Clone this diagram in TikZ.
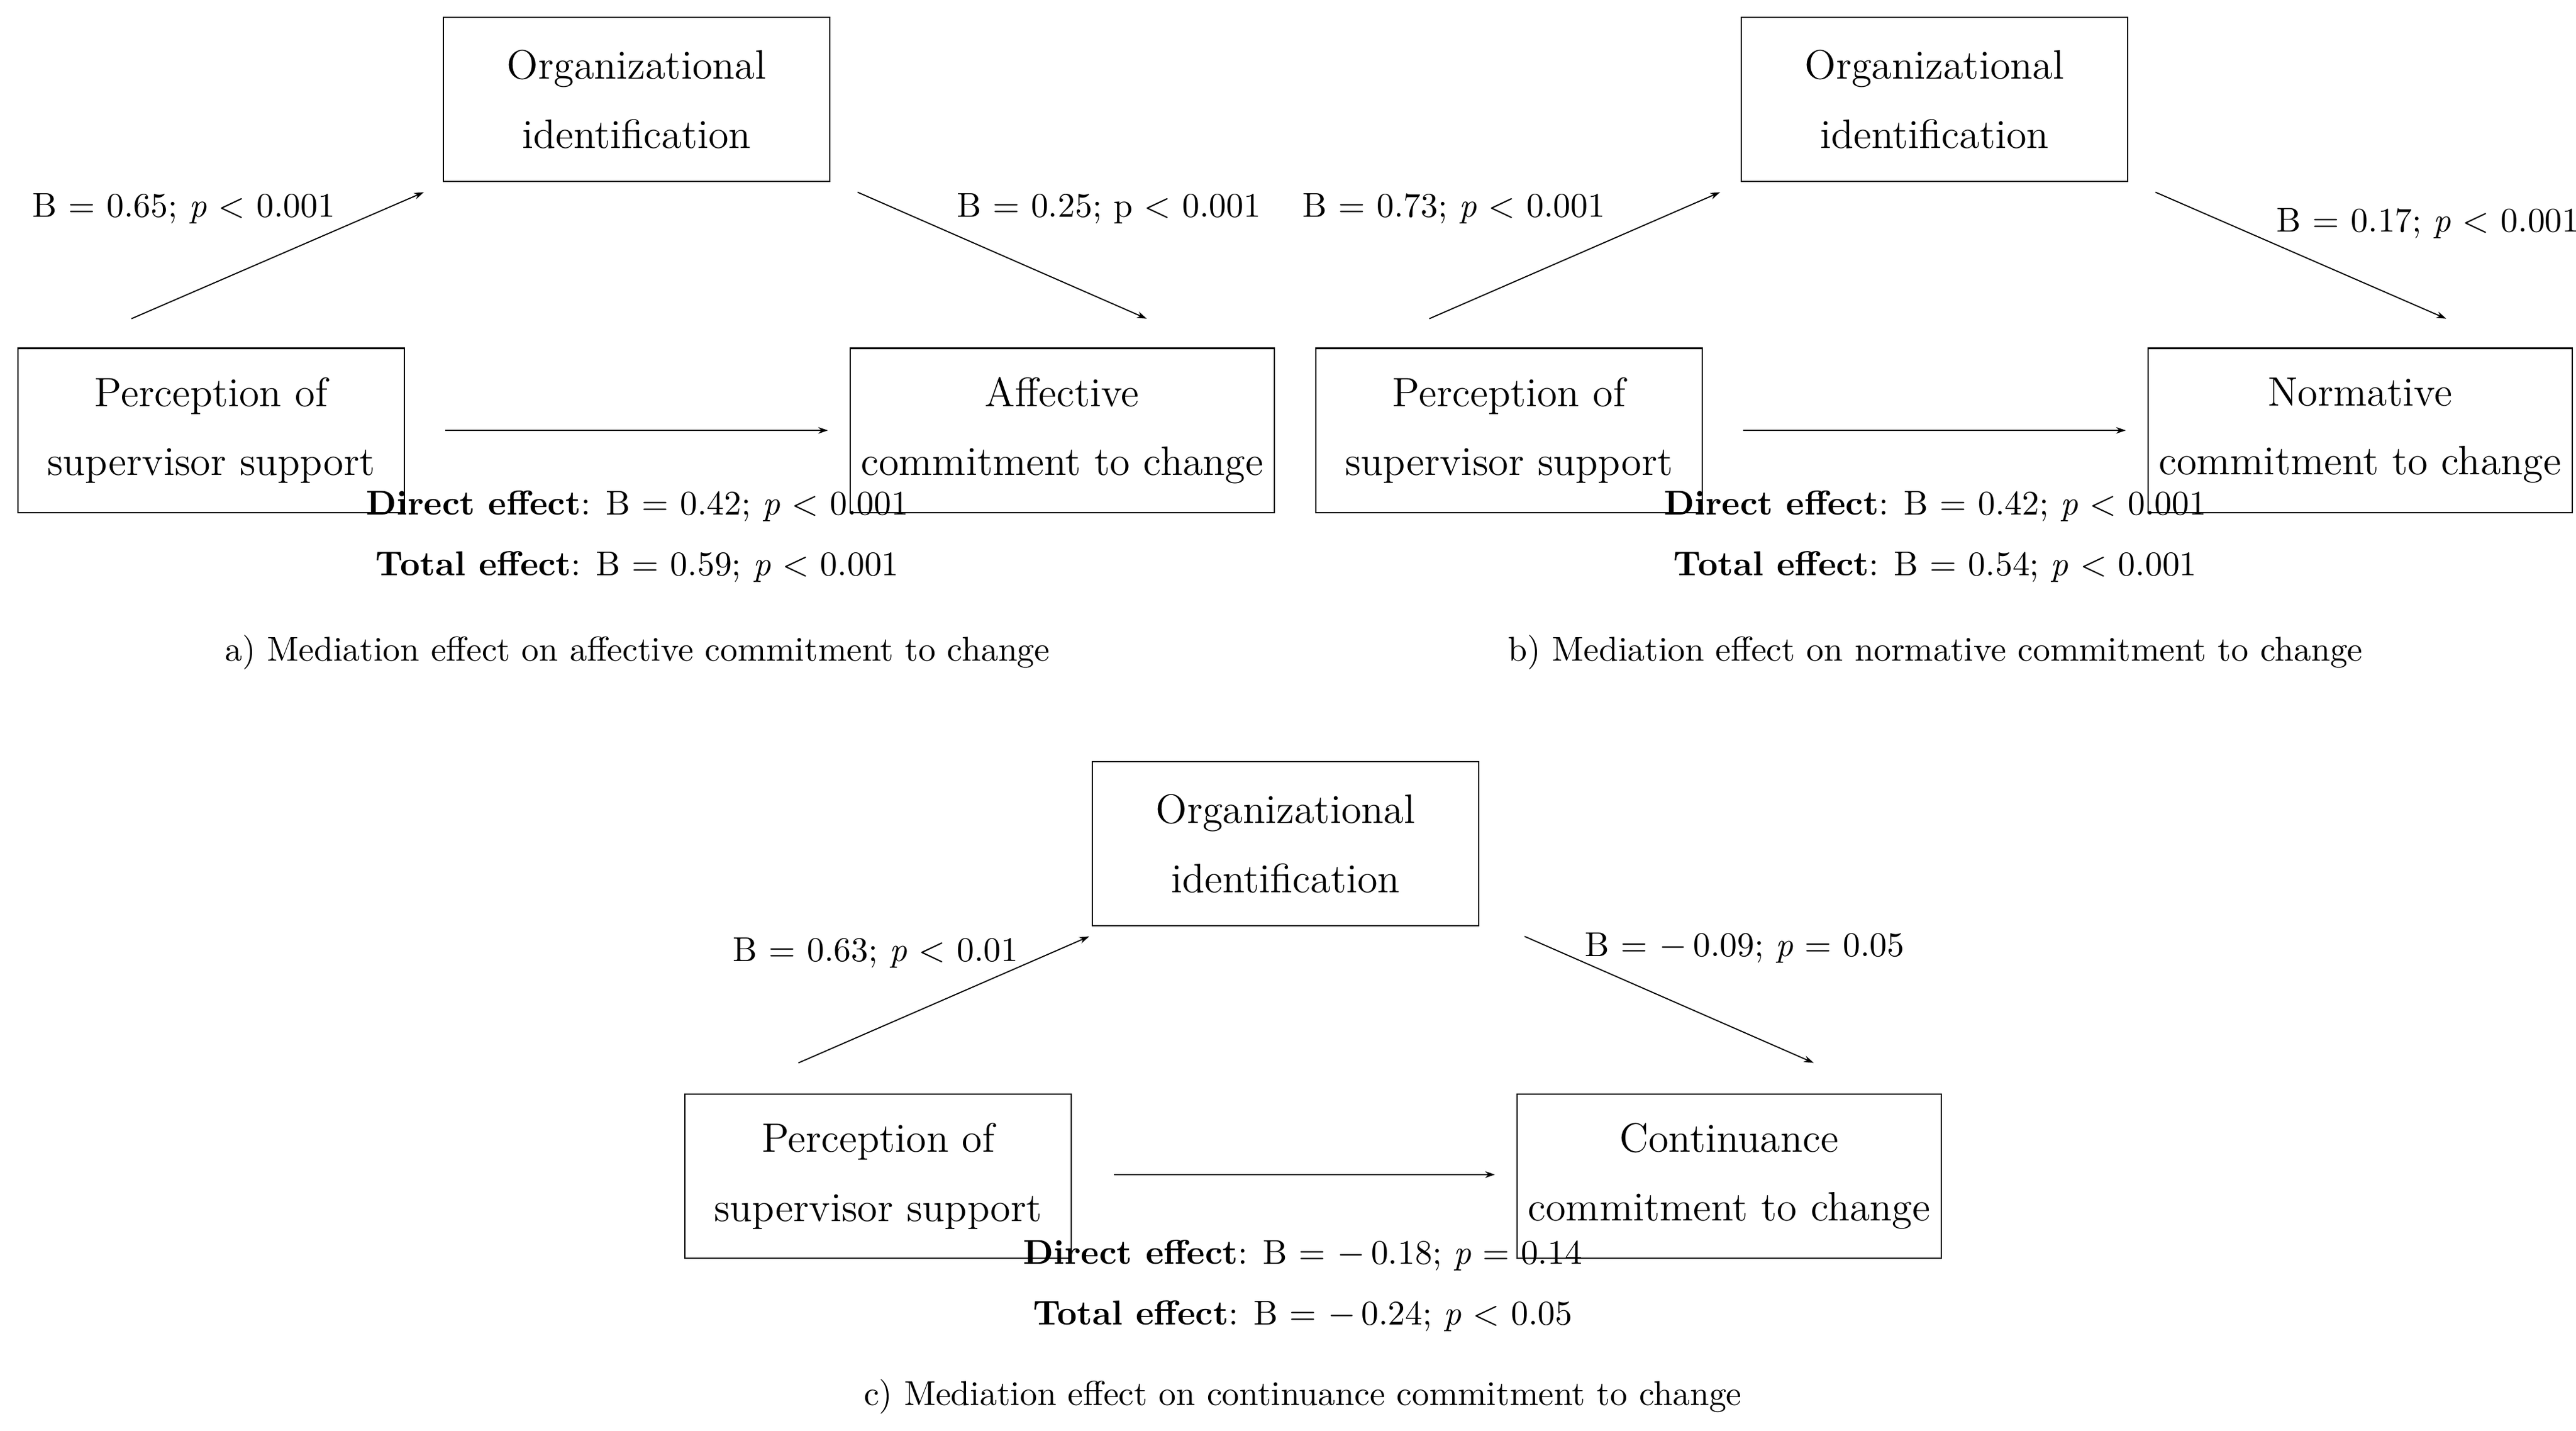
\documentclass[tikz,border=0pt]{standalone}
\usepackage{tikz}
\usetikzlibrary{arrows.meta}
\tikzset{
  varbox/.style={draw, line width=0.4pt, minimum width=117.5pt, minimum height=50pt, align=center, font=\fontsize{12.5}{21}\selectfont},
  coef/.style={font=\fontsize{10.5}{12}\selectfont},
  captext/.style={font=\fontsize{10.5}{12}\selectfont},
  effect/.style={line width=0.35pt, -{Stealth[length=3pt,width=2pt]}}
}
\begin{document}
\begin{tikzpicture}[x=0.5pt, y=-0.5pt]
    \useasboundingbox (0,0) rectangle (1568,871);
    % panel a
    \node[varbox] (orgA) at (387.5,60.5) {Organizational\\identification};
    \node[varbox] (pssA) at (128.5,262) {Perception of\\supervisor support};
    \node[varbox] (outA) at (646.5,262) {Affective\\commitment to change};
    \coordinate (a1) at (80,194); \coordinate (a2) at (258,117);
    \coordinate (a3) at (522,117); \coordinate (a4) at (698,194);
    \coordinate (a5) at (271,262); \coordinate (a6) at (504,262);
    \draw[effect] (a1) -- (a2);
    \draw[effect] (a3) -- (a4);
    \draw[effect] (a5) -- (a6);
    \node[coef] (labA1) at (112,127) {B = 0.65; \textit{p} < 0.001};
    \node[coef] (labA2) at (675,127) {B = 0.25; p < 0.001};
    \node[coef] (dirA) at (388,308) {\textbf{Direct effect}: B = 0.42; \textit{p} < 0.001};
    \node[coef] (totA) at (388,345) {\textbf{Total effect}: B = 0.59; \textit{p} < 0.001};
    \node[captext] (capA) at (388,397) {a) Mediation effect on affective commitment to change};

    % panel b
    \node[varbox] (orgB) at (1177.5,60.5) {Organizational\\identification};
    \node[varbox] (pssB) at (918.5,262) {Perception of\\supervisor support};
    \node[varbox] (outB) at (1436.5,262) {Normative\\commitment to change};
    \coordinate (b1) at (870,194); \coordinate (b2) at (1047,117);
    \coordinate (b3) at (1312,117); \coordinate (b4) at (1489,194);
    \coordinate (b5) at (1061,262); \coordinate (b6) at (1294,262);
    \draw[effect] (b1) -- (b2);
    \draw[effect] (b3) -- (b4);
    \draw[effect] (b5) -- (b6);
    \node[coef] (labB1) at (885,127) {B = 0.73; \textit{p} < 0.001};
    \node[coef] (labB2) at (1478,136) {B = 0.17; \textit{p} < 0.001};
    \node[coef] (dirB) at (1178,308) {\textbf{Direct effect}: B = 0.42; \textit{p} < 0.001};
    \node[coef] (totB) at (1178,345) {\textbf{Total effect}: B = 0.54; \textit{p} < 0.001};
    \node[captext] (capB) at (1178,397) {b) Mediation effect on normative commitment to change};

    % panel c
    \node[varbox] (orgC) at (782.5,513.5) {Organizational\\identification};
    \node[varbox] (pssC) at (534.5,716) {Perception of\\supervisor support};
    \node[varbox] (outC) at (1052.5,716) {Continuance\\commitment to change};
    \coordinate (c1) at (486,647); \coordinate (c2) at (663,570);
    \coordinate (c3) at (928,570); \coordinate (c4) at (1104,647);
    \coordinate (c5) at (678,715); \coordinate (c6) at (910,715);
    \draw[effect] (c1) -- (c2);
    \draw[effect] (c3) -- (c4);
    \draw[effect] (c5) -- (c6);
    \node[coef] (labC1) at (533,580) {B = 0.63; \textit{p} < 0.01};
    \node[coef] (labC2) at (1062,577) {B = $-$\,0.09; \textit{p} = 0.05};
    \node[coef] (dirC) at (793,764) {\textbf{Direct effect}: B = $-$\,0.18; \textit{p} = 0.14};
    \node[coef] (totC) at (793,801) {\textbf{Total effect}: B = $-$\,0.24; \textit{p} < 0.05};
    \node[captext] (capC) at (793,850) {c) Mediation effect on continuance commitment to change};
\end{tikzpicture}
\end{document}
